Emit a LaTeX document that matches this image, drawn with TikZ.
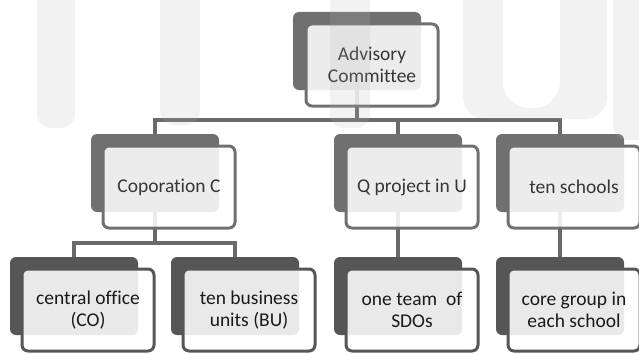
\documentclass[tikz,border=0pt]{standalone}
\usepackage{fontspec}
\setmainfont{Carlito}[Ligatures=NoCommon]
\usetikzlibrary{calc}

\definecolor{shadeA}{HTML}{707070}
\definecolor{shadeB}{HTML}{565656}
\definecolor{wire}{HTML}{6A6A6A}
\definecolor{inkA}{HTML}{363636}
\definecolor{inkB}{HTML}{1A1A1A}
\definecolor{ghost}{HTML}{B7B7B7}

\pgfdeclarelayer{lines}
\pgfdeclarelayer{backs}
\pgfdeclarelayer{veil}
\pgfsetlayers{lines,backs,main,veil}

\tikzset{
  backbox/.style={rounded corners=6pt, minimum width=128pt, minimum height=78pt,
    inner sep=0pt, fill=#1},
  frontbox/.style={rounded corners=6pt, minimum width=132pt, minimum height=82pt,
    inner sep=0pt, draw=#1, line width=3pt, fill=white, fill opacity=0.87,
    text opacity=1, align=center, font=\fontsize{19.5}{22}\selectfont},
  upper/.style={frontbox=shadeA, text=inkA},
  lower/.style={frontbox=shadeB, text=inkB},
  conn/.style={draw=wire, line width=3.5pt, line join=miter},
  ghostfill/.style={fill=ghost, fill opacity=0.18}
}

\begin{document}
\begin{tikzpicture}[x=1pt, y=-1pt]
\useasboundingbox (0,0) rectangle (639,353);

% dark backing plates
\begin{pgfonlayer}{backs}
  \node[backbox=shadeA] (advB) at (357,51)  {};
  \node[backbox=shadeA] (copB) at (155,173) {};
  \node[backbox=shadeA] (qB)   at (398,173) {};
  \node[backbox=shadeA] (schB) at (560,173) {};
  \node[backbox=shadeB] (coB)   at (74,296)  {};
  \node[backbox=shadeB] (buB)   at (235,296) {};
  \node[backbox=shadeB] (sdoB)  at (398,296) {};
  \node[backbox=shadeB] (coreB) at (560,296) {};
\end{pgfonlayer}

% labelled front boxes
\node[upper] (adv) at (372,65)  {Advisory\\Committee};
\node[upper] (cop) at (169,187) {Coporation C};
\node[upper] (q)   at (412,187) {Q project in U};
\node[upper] (sch) at (574,187) {ten schools};
\node[lower] (co)   at (88,310)  {central office\\(CO)};
\node[lower] (bu)   at (249,310) {ten business\\units (BU)};
\node[lower] (sdo)  at (412,310) {one team\ \ of\\SDOs};
\node[lower] (core) at (574,310) {core group in\\each school};

% tree connectors
\coordinate (bus) at (0,120);
\coordinate (sub) at (0,243);
\begin{pgfonlayer}{lines}
  \draw[conn] (advB.south) -- (advB.south |- bus);
  \draw[conn] (copB.north) -- (copB.north |- bus) -- (schB.north |- bus) -- (schB.north);
  \draw[conn] (qB.north) -- (qB.north |- bus);
  \draw[conn] (copB.south) -- (copB.south |- sub);
  \draw[conn] (coB.north) -- (coB.north |- sub) -- (buB.north |- sub) -- (buB.north);
  \draw[conn] (qB.south) -- (sdoB.north);
  \draw[conn] (schB.south) -- (coreB.north);
\end{pgfonlayer}

% faint lettering in the background
\begin{pgfonlayer}{veil}
  \fill[ghostfill, rounded corners=14pt] (37,-20) rectangle (75,128);
  \fill[ghostfill, rounded corners=14pt] (160,-20) rectangle (200,125);
  \fill[ghostfill, rounded corners=14pt] (330,-20) rectangle (370,128);
  \fill[ghostfill, even odd rule]
    [rounded corners=22pt] (463,-20) -- (463,119) -- (607,119) -- (607,-20) -- cycle
    [rounded corners=26pt] (503,-30) -- (503,108) -- (560,108) -- (560,-30) -- cycle;
  \fill[ghostfill, rounded corners=14pt] (613,-20) rectangle (650,140);
\end{pgfonlayer}
\end{tikzpicture}
\end{document}
